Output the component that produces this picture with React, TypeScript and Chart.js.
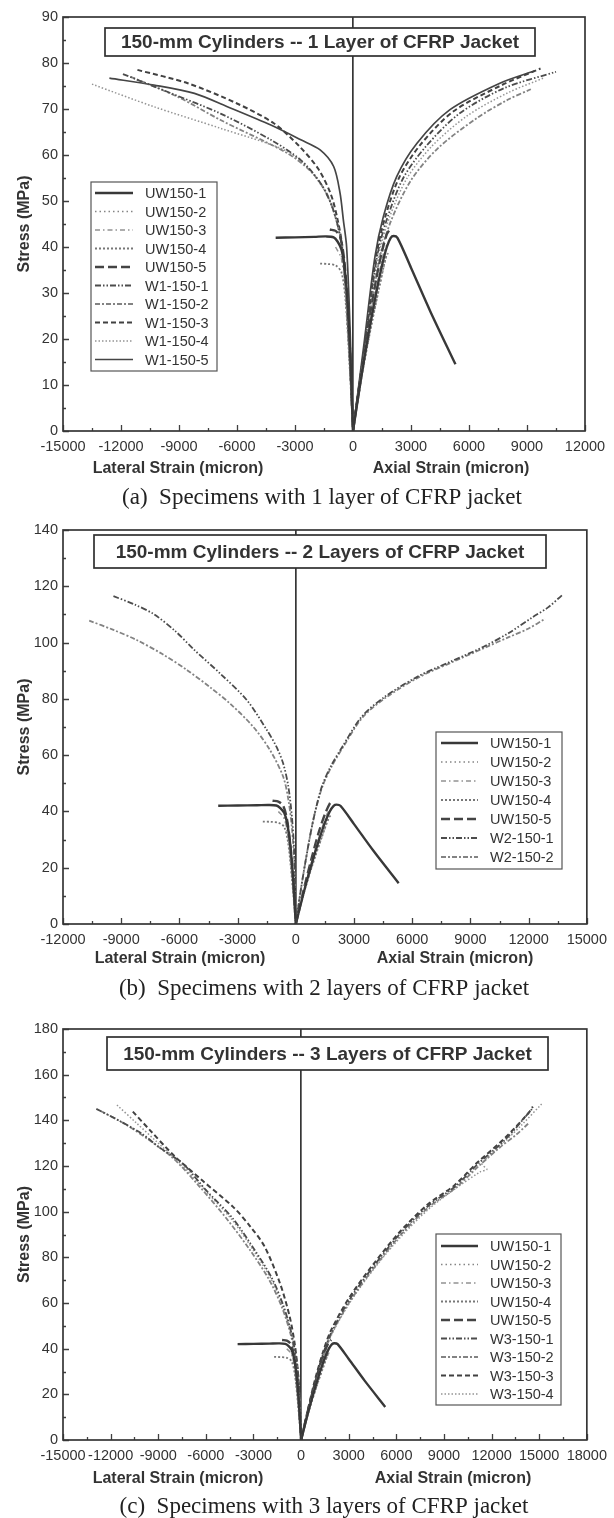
import React, { useEffect, useRef } from 'react';
import { Chart, registerables } from 'chart.js';
Chart.register(...registerables);

type Pt = [number, number];

// ---------------- tick labels ----------------
const X_TICKS_A = [-15000, -12000, -9000, -6000, -3000, 0, 3000, 6000, 9000, 12000];
const Y_TICKS_A = [0, 10, 20, 30, 40, 50, 60, 70, 80, 90];
const X_TICKS_B = [-12000, -9000, -6000, -3000, 0, 3000, 6000, 9000, 12000, 15000];
const Y_TICKS_B = [0, 20, 40, 60, 80, 100, 120, 140];
const X_TICKS_C = [-15000, -12000, -9000, -6000, -3000, 0, 3000, 6000, 9000, 12000, 15000, 18000];
const Y_TICKS_C = [0, 20, 40, 60, 80, 100, 120, 140, 160, 180];

// ---------------- unwrapped specimens (all panels) ----------------
const UW150_1_LAT: Pt[] = [[-4000, 42], [-3000, 42.1], [-2000, 42.2], [-1400, 42.3], [-1000, 42.1], [-800, 41.2], [-600, 39.5], [-450, 36], [-300, 29], [-150, 17], [0, 0]];
const UW150_1_AX: Pt[] = [[0, 0], [400, 11], [800, 21], [1200, 30], [1500, 36], [1750, 40], [1950, 42], [2100, 42.4], [2300, 42], [3000, 35.5], [4000, 26], [5300, 14.5]];
const UW150_2_LAT: Pt[] = [[-600, 38], [-480, 35], [-350, 28], [-200, 17], [0, 0]];
const UW150_2_AX: Pt[] = [[0, 0], [500, 13], [1000, 24], [1400, 32], [1700, 37.5], [1850, 39]];
const UW150_3_LAT: Pt[] = [[-900, 40], [-600, 37.5], [-400, 31], [-200, 17], [0, 0]];
const UW150_3_AX: Pt[] = [[0, 0], [450, 13], [900, 24], [1300, 33], [1600, 39], [1750, 40.5]];
const UW150_4_LAT: Pt[] = [[-1700, 36.4], [-1300, 36.3], [-900, 36], [-600, 34.5], [-400, 29], [-200, 16], [0, 0]];
const UW150_4_AX: Pt[] = [[0, 0], [500, 13], [1000, 24], [1350, 31], [1600, 36], [1750, 38.5]];
const UW150_5_LAT: Pt[] = [[-1200, 43.8], [-900, 43.5], [-650, 42], [-450, 37], [-300, 29], [-150, 17], [0, 0]];
const UW150_5_AX: Pt[] = [[0, 0], [400, 12], [800, 23], [1200, 33], [1500, 39], [1750, 42.8], [1900, 43.8]];

// ---------------- 1 layer ----------------
const W1_150_1_LAT: Pt[] = [[-11900, 77.6], [-9400, 73.4], [-6850, 69], [-4250, 63.3], [-2700, 58.9], [-1700, 54], [-1100, 49], [-750, 44], [-500, 38], [-220, 20], [0, 0]];
const W1_150_1_AX: Pt[] = [[0, 0], [650, 20], [1250, 38], [1750, 46], [2600, 55], [3800, 62], [5500, 69], [7800, 74.5], [10500, 78.1]];
const W1_150_2_LAT: Pt[] = [[-11500, 77], [-9000, 72.5], [-6850, 67.6], [-3400, 60.4], [-2200, 56.5], [-1400, 52], [-950, 47], [-650, 42], [-450, 36], [-200, 19], [0, 0]];
const W1_150_2_AX: Pt[] = [[0, 0], [750, 20], [1350, 37], [1950, 45.5], [3000, 54.5], [4400, 61.5], [6400, 68], [8000, 72], [9200, 74.3]];
const W1_150_3_LAT: Pt[] = [[-11150, 78.5], [-8550, 75.6], [-6000, 71.2], [-4100, 66.9], [-2800, 62], [-1800, 57], [-1150, 51.5], [-800, 46], [-550, 40], [-250, 22], [0, 0]];
const W1_150_3_AX: Pt[] = [[0, 0], [650, 20], [1200, 38], [1650, 46.3], [2400, 55.2], [3500, 62.3], [5200, 69.5], [7700, 75.2], [9700, 78.8]];
const W1_150_4_LAT: Pt[] = [[-13500, 75.4], [-10300, 70.5], [-6850, 65.8], [-3550, 61.1], [-2400, 57.5], [-1500, 52.5], [-1000, 48], [-700, 43], [-480, 37], [-220, 20], [0, 0]];
const W1_150_4_AX: Pt[] = [[0, 0], [700, 20], [1300, 37.5], [1850, 46], [2800, 55], [4100, 62], [5900, 68.5], [8000, 73.5], [9900, 76.8]];
const W1_150_5_LAT: Pt[] = [[-12600, 76.7], [-10300, 75.2], [-8200, 73.4], [-6500, 70.5], [-4250, 66.5], [-2700, 63.3], [-1700, 61.1], [-1000, 57.5], [-670, 51.7], [-500, 45.9], [-330, 40], [-150, 22], [0, 0]];
const W1_150_5_AX: Pt[] = [[0, 0], [600, 20], [1140, 38], [1570, 46.6], [2260, 55.3], [3300, 62.5], [5000, 69.8], [7600, 75.6], [9400, 78.3]];

// ---------------- 2 layers ----------------
const W2_150_1_LAT: Pt[] = [[-9400, 116.5], [-8300, 113.5], [-7300, 110], [-6200, 104], [-5250, 97.5], [-3900, 89], [-2530, 79.6], [-1500, 69], [-1000, 63], [-650, 57], [-390, 49], [-200, 38], [-80, 25], [0, 0]];
const W2_150_1_AX: Pt[] = [[0, 0], [300, 14], [700, 30], [1000, 40], [1350, 49], [1800, 56], [2400, 63], [3400, 73.7], [4600, 80.8], [6300, 88], [8000, 93.3], [9700, 98.6], [11000, 103.5], [12200, 109], [13000, 112.5], [13750, 117]];
const W2_150_2_LAT: Pt[] = [[-10650, 107.8], [-9400, 104.5], [-8200, 100.9], [-6900, 96], [-5600, 90.2], [-4400, 84], [-3400, 78.4], [-2200, 70.1], [-1330, 61.8], [-650, 52.3], [-380, 44], [-200, 34], [-80, 22], [0, 0]];
const W2_150_2_AX: Pt[] = [[0, 0], [300, 14], [700, 30], [1000, 40], [1380, 49], [1850, 56], [2450, 63], [3450, 73.5], [4650, 80.5], [6350, 87.7], [8050, 93], [9750, 98.2], [11000, 102], [12000, 105], [12850, 108.5]];

// ---------------- 3 layers ----------------
const W3_150_1_LAT: Pt[] = [[-12900, 145], [-11500, 140], [-10000, 134], [-9000, 128.5], [-7450, 121], [-6000, 109.5], [-4300, 97], [-3000, 84], [-1850, 71], [-1100, 58.5], [-600, 46.5], [-250, 33], [-80, 18], [0, 0]];
const W3_150_1_AX: Pt[] = [[0, 0], [400, 12], [900, 26], [1400, 38], [1900, 47], [3050, 61.5], [4550, 76], [6250, 90.5], [8000, 102.5], [9700, 111], [11150, 121], [12850, 131.5], [14550, 145]];
const W3_150_2_LAT: Pt[] = [[-12600, 144], [-11000, 138], [-9500, 131], [-8000, 123], [-6400, 111], [-4700, 97], [-3200, 83], [-2000, 70], [-1200, 58], [-650, 46], [-280, 33], [-90, 18], [0, 0]];
const W3_150_2_AX: Pt[] = [[0, 0], [420, 12], [950, 26], [1450, 38], [1950, 47], [3100, 61], [4600, 75.5], [6300, 90], [8050, 102], [9750, 110.5], [11200, 120], [12500, 128], [13600, 134], [14300, 138.5]];
const W3_150_3_LAT: Pt[] = [[-10600, 143.8], [-9500, 135.5], [-8000, 124.5], [-6200, 113.5], [-4270, 102], [-3200, 93.5], [-2300, 84.7], [-1330, 68.6], [-720, 54], [-380, 41], [-160, 26], [0, 0]];
const W3_150_3_AX: Pt[] = [[0, 0], [400, 12.5], [880, 26.5], [1380, 38.5], [1850, 47.5], [3000, 62], [4500, 76.5], [6200, 91], [7950, 103], [9650, 111.5], [11100, 121.5], [12800, 132], [14300, 143], [14600, 146]];
const W3_150_4_LAT: Pt[] = [[-11600, 146.7], [-10400, 139], [-9000, 130], [-7600, 121], [-6000, 109], [-4300, 96], [-3000, 83], [-1850, 70], [-1100, 57.5], [-600, 46], [-260, 33], [-90, 18], [0, 0]];
const W3_150_4_AX: Pt[] = [[0, 0], [430, 12], [960, 26], [1470, 38], [1980, 47], [3150, 61], [4650, 75.5], [6350, 89.5], [8100, 101.5], [9800, 110.5], [11300, 117.5], [11700, 118.5], [11400, 121], [12500, 128.5], [13900, 138], [15200, 147.5]];

// ---------------- series lists ----------------
interface Series { label: string; lat: Pt[]; ax: Pt[] }
const UW_SERIES: Series[] = [
  { label: 'UW150-1', lat: UW150_1_LAT, ax: UW150_1_AX },
  { label: 'UW150-2', lat: UW150_2_LAT, ax: UW150_2_AX },
  { label: 'UW150-3', lat: UW150_3_LAT, ax: UW150_3_AX },
  { label: 'UW150-4', lat: UW150_4_LAT, ax: UW150_4_AX },
  { label: 'UW150-5', lat: UW150_5_LAT, ax: UW150_5_AX },
];
const SERIES_A: Series[] = [
  ...UW_SERIES,
  { label: 'W1-150-1', lat: W1_150_1_LAT, ax: W1_150_1_AX },
  { label: 'W1-150-2', lat: W1_150_2_LAT, ax: W1_150_2_AX },
  { label: 'W1-150-3', lat: W1_150_3_LAT, ax: W1_150_3_AX },
  { label: 'W1-150-4', lat: W1_150_4_LAT, ax: W1_150_4_AX },
  { label: 'W1-150-5', lat: W1_150_5_LAT, ax: W1_150_5_AX },
];
const SERIES_B: Series[] = [
  ...UW_SERIES,
  { label: 'W2-150-1', lat: W2_150_1_LAT, ax: W2_150_1_AX },
  { label: 'W2-150-2', lat: W2_150_2_LAT, ax: W2_150_2_AX },
];
const SERIES_C: Series[] = [
  ...UW_SERIES,
  { label: 'W3-150-1', lat: W3_150_1_LAT, ax: W3_150_1_AX },
  { label: 'W3-150-2', lat: W3_150_2_LAT, ax: W3_150_2_AX },
  { label: 'W3-150-3', lat: W3_150_3_LAT, ax: W3_150_3_AX },
  { label: 'W3-150-4', lat: W3_150_4_LAT, ax: W3_150_4_AX },
];

// ---------------- styles ----------------
const STYLES: Record<string, { color: string; width: number; dash: number[] }> = {
  'UW150-1': { color: '#383838', width: 2.4, dash: [] },
  'UW150-2': { color: '#858585', width: 1.5, dash: [1.5, 3] },
  'UW150-3': { color: '#939393', width: 1.5, dash: [5, 3, 1.5, 3] },
  'UW150-4': { color: '#777777', width: 1.8, dash: [2, 2] },
  'UW150-5': { color: '#444444', width: 2.4, dash: [9, 4] },
  '-1': { color: '#4c4c4c', width: 1.8, dash: [6, 2, 1.5, 2, 1.5, 2] },
  '-2': { color: '#838383', width: 1.8, dash: [5, 2, 2, 2] },
  '-3': { color: '#414141', width: 2, dash: [5, 3] },
  '-4': { color: '#949494', width: 1.5, dash: [1.5, 2] },
  '-5': { color: '#454545', width: 1.7, dash: [] },
};
const styleFor = (label: string) => STYLES[label] ?? STYLES[label.slice(-2)];

const SANS = "'Liberation Sans', Arial, sans-serif";
const SERIF = "'Liberation Serif', 'Times New Roman', serif";
const INK = '#333333';

interface PanelDef {
  id: string; top: number; height: number; padTop: number; padRight: number; xH: number;
  xTicks: number[]; yTicks: number[]; yMinor: number; series: Series[];
  title: string; titleBox: { x: number; y: number; w: number; h: number };
  legend: { x: number; y: number; w: number; h: number; first: number; row: number; l0: number; l1: number; tx: number };
  xTitleY: number; latX: number; axX: number; caption: string; capX: number; capY: number;
}

const PANELS: PanelDef[] = [
  {
    id: 'a', top: 0, height: 510, padTop: 17, padRight: 29, xH: 79,
    xTicks: X_TICKS_A, yTicks: Y_TICKS_A, yMinor: 5, series: SERIES_A,
    title: '150-mm Cylinders -- 1 Layer of CFRP Jacket', titleBox: { x: 105, y: 28, w: 430, h: 28 },
    legend: { x: 91, y: 182, w: 126, h: 189, first: 193, row: 18.5, l0: 95, l1: 133, tx: 145 },
    xTitleY: 469, latX: 178, axX: 451, caption: '(a)  Specimens with 1 layer of CFRP jacket', capX: 322, capY: 498,
  },
  {
    id: 'b', top: 510, height: 490, padTop: 20, padRight: 25, xH: 76,
    xTicks: X_TICKS_B, yTicks: Y_TICKS_B, yMinor: 10, series: SERIES_B,
    title: '150-mm Cylinders -- 2 Layers of CFRP Jacket', titleBox: { x: 94, y: 25, w: 452, h: 33 },
    legend: { x: 436, y: 222, w: 126, h: 137, first: 233, row: 19, l0: 441, l1: 478, tx: 490 },
    xTitleY: 449, latX: 180, axX: 455, caption: '(b)  Specimens with 2 layers of CFRP jacket', capX: 324, capY: 479,
  },
  {
    id: 'c', top: 1000, height: 518, padTop: 29, padRight: 24, xH: 78,
    xTicks: X_TICKS_C, yTicks: Y_TICKS_C, yMinor: 10, series: SERIES_C,
    title: '150-mm Cylinders -- 3 Layers of CFRP Jacket', titleBox: { x: 107, y: 37, w: 441, h: 33 },
    legend: { x: 436, y: 234, w: 125, h: 171, first: 246, row: 18.5, l0: 441, l1: 478, tx: 490 },
    xTitleY: 479, latX: 178, axX: 453, caption: '(c)  Specimens with 3 layers of CFRP jacket', capX: 324, capY: 507,
  },
];

function makeDatasets(series: Series[]) {
  return series.flatMap((s) => {
    const st = styleFor(s.label);
    return [s.lat, s.ax].map((pts) => ({
      label: s.label,
      data: pts.map(([x, y]) => ({ x, y })),
      borderColor: st.color,
      borderWidth: st.width,
      borderDash: st.dash,
      pointRadius: 0,
      fill: false,
      tension: 0.3,
    }));
  });
}

function makeDecor(p: PanelDef) {
  return {
    id: 'decor',
    afterDraw(chart: any) {
      const { ctx, chartArea: ca, scales } = chart;
      const xs = scales.x, ys = scales.y;
      const xStep = p.xTicks[1] - p.xTicks[0];
      const yStep = p.yTicks[1] - p.yTicks[0];
      ctx.save();
      // inward tick marks
      ctx.strokeStyle = '#404040';
      ctx.lineWidth = 1.3;
      ctx.setLineDash([]);
      ctx.beginPath();
      for (let v = xs.min; v <= xs.max + 1e-6; v += xStep / 2) {
        const px = Math.round(xs.getPixelForValue(v)) + 0.5;
        const major = Math.abs(((v - xs.min) / xStep) - Math.round((v - xs.min) / xStep)) < 1e-6;
        const len = major ? 6 : 3;
        ctx.moveTo(px, ca.bottom);
        ctx.lineTo(px, ca.bottom - len);
      }
      for (let v = ys.min; v <= ys.max + 1e-6; v += p.yMinor) {
        const py = Math.round(ys.getPixelForValue(v)) + 0.5;
        const major = Math.abs(((v - ys.min) / yStep) - Math.round((v - ys.min) / yStep)) < 1e-6;
        const len = major ? 6 : 3;
        ctx.moveTo(ca.left, py);
        ctx.lineTo(ca.left + len, py);
      }
      ctx.stroke();
      // frame
      ctx.strokeStyle = '#363636';
      ctx.lineWidth = 1.7;
      ctx.strokeRect(ca.left, ca.top, ca.right - ca.left, ca.bottom - ca.top);
      // title box
      const tb = p.titleBox;
      ctx.fillStyle = '#ffffff';
      ctx.fillRect(tb.x, tb.y, tb.w, tb.h);
      ctx.strokeStyle = '#303030';
      ctx.lineWidth = 1.7;
      ctx.strokeRect(tb.x, tb.y, tb.w, tb.h);
      ctx.fillStyle = INK;
      ctx.font = `bold 19px ${SANS}`;
      ctx.textAlign = 'center';
      ctx.textBaseline = 'middle';
      ctx.fillText(p.title, tb.x + tb.w / 2, tb.y + tb.h / 2 + 1);
      // legend
      const lg = p.legend;
      ctx.fillStyle = '#ffffff';
      ctx.fillRect(lg.x, lg.y, lg.w, lg.h);
      ctx.strokeStyle = '#555555';
      ctx.lineWidth = 1.2;
      ctx.strokeRect(lg.x, lg.y, lg.w, lg.h);
      const seen: string[] = [];
      const items: any[] = [];
      chart.data.datasets.forEach((d: any) => {
        if (!seen.includes(d.label)) { seen.push(d.label); items.push(d); }
      });
      ctx.font = `14.5px ${SANS}`;
      ctx.textAlign = 'left';
      items.forEach((d, i) => {
        const y = lg.first + i * lg.row;
        ctx.strokeStyle = d.borderColor;
        ctx.lineWidth = d.borderWidth;
        ctx.setLineDash(d.borderDash || []);
        ctx.beginPath();
        ctx.moveTo(lg.l0, y);
        ctx.lineTo(lg.l1, y);
        ctx.stroke();
        ctx.setLineDash([]);
        ctx.fillStyle = INK;
        ctx.fillText(d.label, lg.tx, y + 1);
      });
      // axis titles
      ctx.font = `bold 16px ${SANS}`;
      ctx.textAlign = 'center';
      ctx.fillStyle = INK;
      ctx.fillText('Lateral Strain (micron)', p.latX, p.xTitleY);
      ctx.fillText('Axial Strain (micron)', p.axX, p.xTitleY);
      // caption
      ctx.font = `23px ${SERIF}`;
      ctx.fillStyle = '#222222';
      ctx.fillText(p.caption, p.capX, p.capY);
      ctx.restore();
    },
  };
}

function makeConfig(p: PanelDef): any {
  const xMin = p.xTicks[0], xMax = p.xTicks[p.xTicks.length - 1];
  const yMin = p.yTicks[0], yMax = p.yTicks[p.yTicks.length - 1];
  return {
    type: 'line',
    data: { datasets: makeDatasets(p.series) },
    options: {
      animation: false,
      responsive: false,
      maintainAspectRatio: false,
      layout: { padding: { left: 0, top: p.padTop, right: p.padRight, bottom: 0 } },
      plugins: { legend: { display: false }, tooltip: { enabled: false }, title: { display: false } },
      scales: {
        x: {
          type: 'linear', min: xMin, max: xMax,
          afterFit: (s: any) => { s.height = p.xH; },
          ticks: {
            stepSize: p.xTicks[1] - p.xTicks[0], autoSkip: false, maxRotation: 0, padding: 7,
            color: INK, font: { family: SANS, size: 14.5 },
            callback: (v: any) => String(v),
          },
          grid: {
            drawTicks: false, lineWidth: 1.7,
            color: (c: any) => (c.tick && c.tick.value === 0 ? '#363636' : 'rgba(0,0,0,0)'),
          },
          border: { display: false },
        },
        y: {
          type: 'linear', min: yMin, max: yMax,
          afterFit: (s: any) => { s.width = 63; },
          ticks: {
            stepSize: p.yTicks[1] - p.yTicks[0], padding: 5,
            color: INK, font: { family: SANS, size: 14.5 },
            callback: (v: any) => String(v),
          },
          grid: { display: false, drawTicks: false },
          border: { display: false },
          title: {
            display: true, text: 'Stress (MPa)', color: INK,
            font: { family: SANS, size: 16, weight: 'bold' },
            padding: { top: 15, bottom: 0 },
          },
        },
      },
    },
    plugins: [makeDecor(p)],
  };
}

function Panel({ def }: { def: PanelDef }) {
  const ref = useRef<HTMLCanvasElement>(null);
  useEffect(() => {
    const chart = new Chart(ref.current as HTMLCanvasElement, makeConfig(def));
    return () => chart.destroy();
  }, [def]);
  return (
    <canvas
      ref={ref}
      width={614}
      height={def.height}
      style={{ position: 'absolute', left: 0, top: def.top, width: 614, height: def.height, display: 'block' }}
    />
  );
}

export default function App() {
  return (
    <div style={{ position: 'absolute', left: 0, top: 0, width: 614, height: 1518, background: '#ffffff' }}>
      {PANELS.map((p) => (
        <Panel key={p.id} def={p} />
      ))}
    </div>
  );
}
